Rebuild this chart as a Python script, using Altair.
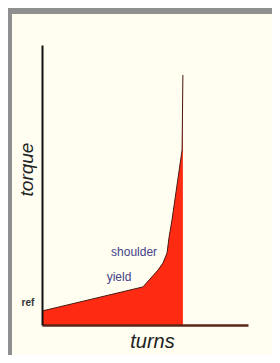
import altair as alt
import pandas as pd

# torque-turn curve (arbitrary units: turns 0-100, torque 0-100)
turns = [0, 49.0, 52.4, 56.3, 58.7, 60.7, 61.7, 63.1, 68.0, 68.4]
torque = [5.0, 13.6, 16.4, 19.6, 22.1, 25.7, 31.4, 37.5, 62.5, 89.3]

# annotations
ref_text = ["ref"]
ref_turns = [-6.8]
ref_torque = [7.9]

label_text = ["yield", "shoulder"]
label_turns = [37.4, 44.7]
label_torque = [17.1, 26.1]

curve = pd.DataFrame({"turns": turns, "torque": torque})
refs = pd.DataFrame({"text": ref_text, "turns": ref_turns, "torque": ref_torque})
labels = pd.DataFrame({"text": label_text, "turns": label_turns, "torque": label_torque})

FONT = "Liberation Sans"

xscale = alt.Scale(domain=[0, 100], nice=False, zero=False)
yscale = alt.Scale(domain=[0, 100], nice=False, zero=False)

xaxis = alt.Axis(title="turns", ticks=False, labels=False, grid=False,
                 domainColor="#5a2418", domainWidth=2.5, zindex=1,
                 titleFont=FONT, titleFontStyle="italic", titleFontWeight="normal",
                 titleFontSize=20, titleColor="#222222", titleX=110, titleY=22,
                 titleAlign="center", titleBaseline="alphabetic")
yaxis = alt.Axis(title="torque", ticks=False, labels=False, grid=False,
                 domainColor="#111111", domainWidth=2, zindex=1,
                 titleFont=FONT, titleFontStyle="italic", titleFontWeight="normal",
                 titleFontSize=19, titleColor="#222222", titleX=-10, titleY=124,
                 titleAngle=270, titleAlign="center", titleBaseline="alphabetic")

panel = alt.Chart(pd.DataFrame({"a": [0]})).mark_rect(color="#fffef0").encode(
    x=alt.value(-30), x2=alt.value(230), y=alt.value(-31), y2=alt.value(310)
)

area = alt.Chart(curve).mark_area(color="#ff2a12", interpolate="linear").encode(
    x=alt.X("turns:Q", scale=xscale, axis=xaxis),
    y=alt.Y("torque:Q", scale=yscale, axis=yaxis),
)
line = alt.Chart(curve).mark_line(color="#4a1a12", strokeWidth=1).encode(
    x=alt.X("turns:Q", scale=xscale),
    y=alt.Y("torque:Q", scale=yscale),
)
ref_label = alt.Chart(refs).mark_text(font=FONT, align="center", baseline="middle",
                                      fontSize=10, fontWeight="bold", color="#333333").encode(
    x=alt.X("turns:Q", scale=xscale),
    y=alt.Y("torque:Q", scale=yscale),
    text="text:N",
)
text = alt.Chart(labels).mark_text(font=FONT, align="center", baseline="middle",
                                   fontSize=12, color="#46418a").encode(
    x=alt.X("turns:Q", scale=xscale),
    y=alt.Y("torque:Q", scale=yscale),
    text="text:N",
)

chart = alt.layer(panel, area, line, ref_label, text).properties(
    width=206, height=280,
    padding={"left": 34, "top": 37, "right": 24, "bottom": 30},
    autosize=alt.AutoSizeParams(type="none"),
    background="#8f8f8f",
).configure_view(strokeWidth=0)

chart.save("out.html", embed_options={"renderer": "svg", "actions": False})
